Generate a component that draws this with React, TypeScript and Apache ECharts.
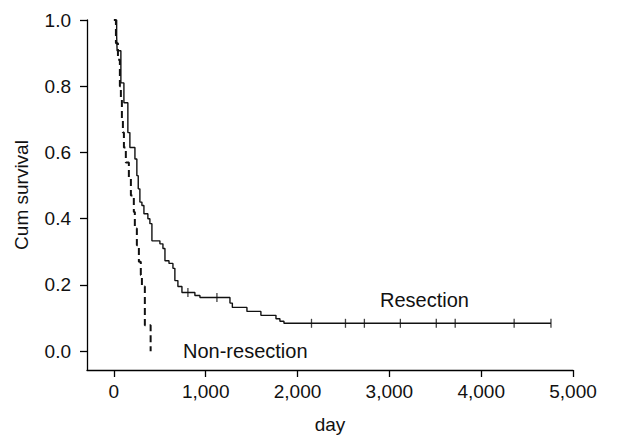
import React, { useEffect, useRef } from "react";
import * as echarts from "echarts";

// Kaplan-Meier: Resection (solid)
const resDays = [0, 30, 35, 76, 109, 152, 174, 229, 250, 265, 283, 305, 327, 370, 392, 414, 501, 534, 556, 600, 643, 664, 697, 741, 882, 937, 1264, 1290, 1449, 1601, 1765, 1808, 1852, 4760];
const resSurv = [1.0, 0.95, 0.907, 0.81, 0.75, 0.66, 0.615, 0.58, 0.53, 0.49, 0.45, 0.44, 0.415, 0.4, 0.385, 0.333, 0.324, 0.31, 0.273, 0.265, 0.25, 0.213, 0.195, 0.177, 0.168, 0.162, 0.145, 0.132, 0.12, 0.108, 0.098, 0.09, 0.084, 0.084];
// censored observations on Resection curve
const resCensorDays = [806, 1122, 2152, 2522, 2728, 3120, 3511, 3717, 4359, 4760];
const resCensorSurv = [0.177, 0.162, 0.084, 0.084, 0.084, 0.084, 0.084, 0.084, 0.084, 0.084];

// Kaplan-Meier: Non-resection (dashed)
const nonDays = [0, 22, 44, 65, 76, 87, 98, 109, 130, 163, 185, 217, 228, 250, 272, 293, 305, 337, 400];
const nonSurv = [1.0, 0.93, 0.88, 0.8, 0.76, 0.7, 0.66, 0.615, 0.57, 0.52, 0.47, 0.42, 0.37, 0.32, 0.27, 0.23, 0.195, 0.078, 0.0];

const xTicks = [0, 1000, 2000, 3000, 4000, 5000];
const yTicks = [0, 0.2, 0.4, 0.6, 0.8, 1.0];

const FONT = "'Liberation Sans', Arial, Helvetica, sans-serif";
const INK = "#111";

export default function App() {
  const ref = useRef<HTMLDivElement>(null);
  useEffect(() => {
    if (!ref.current) return;
    const chart = echarts.init(ref.current, undefined, { renderer: "svg" });
    const resData = resDays.map((d, i) => [d, resSurv[i]]);
    const nonData = nonDays.map((d, i) => [d, nonSurv[i]]);
    const censData = resCensorDays.map((d, i) => [d, resCensorSurv[i]]);
    chart.setOption({
      animation: false,
      backgroundColor: "#fff",
      grid: { left: 87, right: 60, top: 20, bottom: 67 },
      xAxis: {
        type: "value",
        min: -293,
        max: 5000,
        name: "day",
        nameLocation: "middle",
        nameGap: 45,
        nameTextStyle: { fontFamily: FONT, fontSize: 19, color: INK },
        axisLine: { onZero: false, lineStyle: { color: "#000", width: 1.3 } },
        axisTick: { show: true, customValues: xTicks, length: 7, lineStyle: { color: "#000", width: 1.3 } },
        axisLabel: {
          customValues: xTicks,
          margin: 12,
          fontFamily: FONT,
          fontSize: 19,
          color: INK,
          formatter: (v: number) => v.toLocaleString("en-US"),
        },
        splitLine: { show: false },
      },
      yAxis: {
        type: "value",
        min: -0.057,
        max: 1.0,
        name: "Cum survival",
        nameLocation: "middle",
        nameGap: 56,
        nameTextStyle: { fontFamily: FONT, fontSize: 19, color: INK },
        axisLine: { show: true, onZero: false, lineStyle: { color: "#000", width: 1.3 } },
        axisTick: { show: true, customValues: yTicks, length: 7, lineStyle: { color: "#000", width: 1.3 } },
        axisLabel: {
          customValues: yTicks,
          margin: 16,
          fontFamily: FONT,
          fontSize: 19,
          color: INK,
          formatter: (v: number) => v.toFixed(1),
        },
        splitLine: { show: false },
      },
      series: [
        {
          name: "Resection",
          type: "line",
          step: "end",
          data: resData,
          showSymbol: false,
          lineStyle: { color: "#111", width: 1.4 },
          z: 3,
        },
        {
          name: "Non-resection",
          type: "line",
          step: "end",
          data: nonData,
          showSymbol: false,
          lineStyle: { color: "#111", width: 2, type: [7, 4] },
          z: 3,
        },
        {
          name: "Censored",
          type: "scatter",
          data: censData,
          symbol: "rect",
          symbolSize: [1.3, 9],
          itemStyle: { color: "#111" },
          z: 4,
        },
      ],
      graphic: [
        {
          type: "text",
          left: 380,
          top: 290,
          style: { text: "Resection", font: `20px ${FONT}`, fill: INK },
        },
        {
          type: "text",
          left: 183,
          top: 341,
          style: { text: "Non-resection", font: `20px ${FONT}`, fill: INK },
        },
      ],
    });
    return () => chart.dispose();
  }, []);
  return (
    <div
      ref={ref}
      style={{ position: "absolute", left: 0, top: 0, width: 633, height: 439 }}
    />
  );
}
